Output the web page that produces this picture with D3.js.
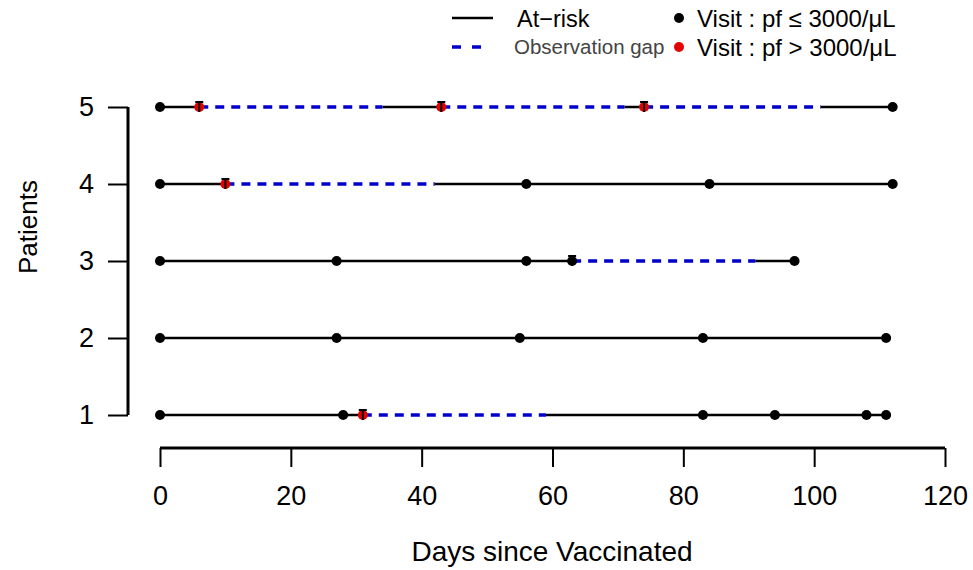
<!DOCTYPE html>
<html>
<head>
<meta charset="utf-8">
<script src="https://cdn.jsdelivr.net/npm/d3@7"></script>
<style>
  body { margin: 0; background: #fff; }
  text { font-family: "Liberation Sans", Arial, sans-serif; }
</style>
</head>
<body>
<div id="chart"></div>
<script>
// patients on the y axis
const patients = [1, 2, 3, 4, 5]
// visit days per patient
const visitDays = {
    1: [0, 28, 31, 83, 94, 108, 111],
    2: [0, 27, 55, 83, 111],
    3: [0, 27, 56, 63, 97],
    4: [0, 10, 56, 84, 112],
    5: [0, 6, 43, 74, 112]
}
// days with pf > 3000/uL
const positiveDays = {
    1: [31],
    2: [],
    3: [],
    4: [10],
    5: [6, 43, 74]
}
// days flagged with the event tick
const eventDays = {
    1: [31],
    2: [],
    3: [63],
    4: [10],
    5: [6, 43, 74]
}
// observation gaps [start, end]
const gaps = {
    1: [[31, 59]],
    2: [],
    3: [[63, 91]],
    4: [[10, 42]],
    5: [[6, 34], [43, 71], [74, 101]]
}
const xTicks = [0, 20, 40, 60, 80, 100, 120]

const width = 973, height = 570
const svg = d3.select("#chart").append("svg")
    .attr("width", width).attr("height", height)

const x = d3.scaleLinear().domain([0, 120]).range([160, 945])
const y = d3.scaleLinear().domain([1, 5]).range([415, 107])

// axes
const xAxis = svg.append("g")
    .attr("transform", "translate(0,448)")
    .call(d3.axisBottom(x).tickValues(xTicks).tickSize(19).tickPadding(14))
xAxis.select(".domain").attr("stroke-width", 3).attr("d", `M${x(0)},0H${x(120)}`)
xAxis.selectAll(".tick line").attr("stroke-width", 2)
xAxis.selectAll(".tick text").attr("font-size", 27).attr("fill", "#000")
    .attr("font-family", "Liberation Sans, Arial, sans-serif")
    .attr("dy", "0.9em")

const yAxis = svg.append("g")
    .attr("transform", "translate(128,0)")
    .call(d3.axisLeft(y).tickValues(patients).tickFormat(d3.format("d")).tickSize(20).tickPadding(14))
yAxis.select(".domain").attr("stroke-width", 3).attr("d", `M0,${y(1)}V${y(5)}`)
yAxis.selectAll(".tick line").attr("stroke-width", 2)
yAxis.selectAll(".tick text").attr("font-size", 27).attr("fill", "#000")
    .attr("font-family", "Liberation Sans, Arial, sans-serif")

svg.append("text")
    .attr("x", 552).attr("y", 561)
    .attr("text-anchor", "middle").attr("font-size", 28)
    .text("Days since Vaccinated")
svg.append("text")
    .attr("transform", `translate(37,227) rotate(-90)`)
    .attr("text-anchor", "middle").attr("font-size", 26)
    .text("Patients")

// rows
patients.forEach(p => {
    const days = visitDays[p]
    const start = d3.min(days), end = d3.max(days)
    // solid at-risk pieces between gaps
    let cur = start
    const solid = []
    gaps[p].forEach(g => { solid.push([cur, g[0]]); cur = g[1] })
    solid.push([cur, end])
    solid.forEach(s => {
        svg.append("line")
            .attr("x1", x(s[0])).attr("x2", x(s[1]))
            .attr("y1", y(p)).attr("y2", y(p))
            .attr("stroke", "#000").attr("stroke-width", 2.5)
    })
    gaps[p].forEach(g => {
        svg.append("line")
            .attr("x1", x(g[0])).attr("x2", x(g[1]))
            .attr("y1", y(p)).attr("y2", y(p))
            .attr("stroke", "#0000cc").attr("stroke-width", 3.5)
            .attr("stroke-dasharray", "9,7")
    })
    days.forEach(d => {
        svg.append("circle")
            .attr("cx", x(d)).attr("cy", y(p)).attr("r", 5)
            .attr("fill", positiveDays[p].includes(d) ? "#e50000" : "#000")
    })
    eventDays[p].forEach(d => {
        svg.append("path")
            .attr("d", `M${x(d) - 4},${y(p) - 5}H${x(d) + 4}M${x(d)},${y(p) - 5}V${y(p) + 5}`)
            .attr("stroke", "#000").attr("stroke-width", 2).attr("fill", "none")
    })
})

// legend
const lg = svg.append("g")
lg.append("line").attr("x1", 452).attr("x2", 493).attr("y1", 18).attr("y2", 18)
    .attr("stroke", "#000").attr("stroke-width", 2.5)
lg.append("text").attr("x", 517).attr("y", 27).attr("font-size", 23.5).text("At\u2212risk")
lg.append("line").attr("x1", 452).attr("x2", 490).attr("y1", 47).attr("y2", 47)
    .attr("stroke", "#0000cc").attr("stroke-width", 3.5).attr("stroke-dasharray", "9,11")
lg.append("text").attr("x", 514).attr("y", 54).attr("font-size", 20.5).attr("fill", "#444")
    .text("Observation gap")
lg.append("circle").attr("cx", 679).attr("cy", 18).attr("r", 5).attr("fill", "#000")
lg.append("text").attr("x", 697).attr("y", 27).attr("font-size", 24).text("Visit : pf \u2264 3000/\u03bcL")
lg.append("circle").attr("cx", 679).attr("cy", 47).attr("r", 5).attr("fill", "#e50000")
lg.append("text").attr("x", 697).attr("y", 56).attr("font-size", 24).text("Visit : pf > 3000/\u03bcL")
</script>
</body>
</html>
